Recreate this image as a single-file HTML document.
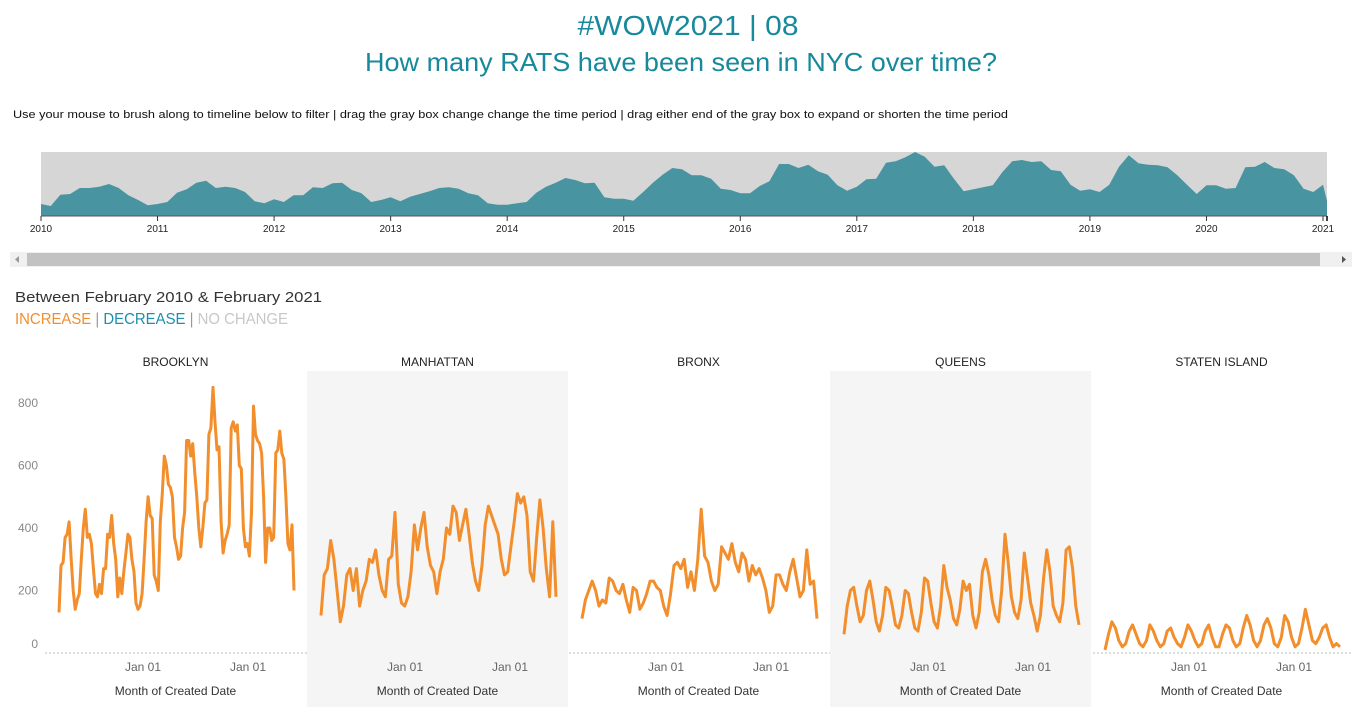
<!DOCTYPE html>
<html><head><meta charset="utf-8"><style>
body{margin:0;background:#fff;font-family:"Liberation Sans",sans-serif}
svg{display:block}
</style></head><body>
<svg id="chart" width="1370" height="723" xmlns="http://www.w3.org/2000/svg">
<text x="688" y="35" text-anchor="middle" font-size="28" fill="#17899b" textLength="221" lengthAdjust="spacingAndGlyphs">#WOW2021 | 08</text>
<text x="681" y="71" text-anchor="middle" font-size="26" fill="#17899b" textLength="632" lengthAdjust="spacingAndGlyphs">How many RATS have been seen in NYC over time?</text>
<text x="13" y="118" font-size="11" fill="#111" textLength="995" lengthAdjust="spacingAndGlyphs">Use your mouse to brush along to timeline below to filter | drag the gray box change change the time period | drag either end of the gray box to expand or shorten the time period</text>
<rect x="41" y="152" width="1286" height="64" fill="#d6d6d6"/>
<g id="timeline"></g>
<rect x="10" y="252" width="1342" height="15" fill="#f0f0f0"/>
<rect x="27" y="253" width="1293" height="13" fill="#c2c2c2"/>
<path d="M19 256 L15 259.5 L19 263Z" fill="#999"/>
<path d="M1342 256 L1346 259.5 L1342 263Z" fill="#555"/>
<text x="15" y="302" font-size="15" fill="#333" textLength="307" lengthAdjust="spacingAndGlyphs">Between February 2010 &amp; February 2021</text>
<text x="15" y="324" font-size="16" textLength="273" lengthAdjust="spacingAndGlyphs"><tspan fill="#f28e2b">INCREASE</tspan><tspan fill="#999"> | </tspan><tspan fill="#1b8fb0">DECREASE</tspan><tspan fill="#999"> | </tspan><tspan fill="#c8c8c8">NO CHANGE</tspan></text>
<g id="panels"></g>
</svg>
<script>
const NS="http://www.w3.org/2000/svg";
const timelineValues=[36,30,64,66,84,84,88,96,84,62,48,32, 36,42,70,80,100,106,84,88,84,72,44,38, 50,42,62,62,86,84,98,100,78,68,42,48, 56,44,58,66,74,84,86,82,68,62,38,34, 34,38,42,70,88,100,114,108,98,100,56,52, 52,46,72,100,124,144,140,122,122,112,82,78, 68,68,90,104,156,156,144,154,134,124,92,76, 88,110,112,160,164,176,192,178,148,152,112,74, 80,86,92,132,164,168,162,164,138,134,94,76, 80,72,94,148,182,158,154,152,146,122,94,66, 92,92,82,84,146,148,162,144,140,122,82,72, 94,46];
const yearLabels=["2010","2011","2012","2013","2014","2015","2016","2017","2018","2019","2020","2021"];
const boroughs=["BROOKLYN","MANHATTAN","BRONX","QUEENS","STATEN ISLAND"];
const brooklyn=[130,280,290,370,380,420,300,200,140,170,190,300,400,460,370,380,350,270,190,180,220,190,270,270,380,370,440,350,300,180,240,190,260,320,380,370,300,260,160,140,150,190,300,420,500,440,430,250,230,200,420,510,630,600,540,530,500,370,340,300,310,400,450,680,680,630,670,580,500,400,340,400,480,490,700,720,850,740,650,660,420,320,360,380,410,720,740,710,730,600,590,400,340,350,310,450,790,700,680,670,640,500,290,400,400,360,370,640,650,710,640,620,500,350,330,410,200];
const manhattan=[120,250,270,360,300,200,100,150,250,270,200,270,150,200,230,300,290,330,250,200,180,300,310,450,220,160,150,180,260,410,330,400,450,340,280,260,190,260,300,400,380,470,450,360,410,460,380,290,230,200,280,410,470,440,410,380,300,250,260,340,420,510,480,500,440,260,230,370,490,400,270,180,420,180];
const bronx=[110,170,200,230,200,150,170,160,240,230,200,190,220,170,130,210,200,140,160,190,230,230,210,200,150,120,190,280,290,270,300,210,260,200,300,460,310,290,230,200,220,340,320,300,350,290,260,320,300,230,280,250,270,240,200,130,150,250,250,220,200,260,300,240,180,200,330,220,230,110];
const queens=[60,150,200,210,150,100,120,200,230,170,100,70,120,210,200,150,90,80,120,200,190,130,80,70,130,240,230,160,100,80,150,280,210,170,110,90,140,230,200,220,120,80,130,260,300,250,170,120,100,200,380,290,180,130,110,170,320,240,160,120,70,120,240,330,260,150,120,100,160,330,340,270,150,90];
const staten=[10,60,100,80,40,20,30,70,90,60,30,20,40,90,70,40,20,30,70,80,50,30,20,50,90,70,40,20,30,70,90,50,20,20,60,90,80,40,20,30,80,120,90,40,20,40,90,110,80,30,20,50,120,100,50,20,30,80,140,90,40,30,50,80,90,50,20,30,20];
const series=[brooklyn,manhattan,bronx,queens,staten];
const yTicks=[0,200,400,600,800];
const xTickLabels=["Jan 01","Jan 01"];

function mk(tag,attrs,parent,text){const e=document.createElementNS(NS,tag);for(const k in attrs)e.setAttribute(k,attrs[k]);if(text!==undefined)e.textContent=text;parent.appendChild(e);return e;}

const tl=document.getElementById('timeline');
const tx=i=>41+i*(1282/132);
const tMax=192;
const ty=v=>216-v/tMax*64;
let d="M"+tx(0)+" 216";
timelineValues.forEach((v,i)=>{d+=" L"+Math.min(tx(i),1327).toFixed(1)+" "+ty(v).toFixed(1);});
d+=" L1327 216Z";
const area=mk('path',{d:d,fill:'#4894a1'},tl);


mk('line',{x1:41,x2:1327,y1:216,y2:216,stroke:'#555','stroke-width':1},tl);
yearLabels.forEach((y,k)=>{
  const x=tx(k*12);
  mk('line',{x1:x,x2:x,y1:216,y2:221,stroke:'#333'},tl);
  const t=mk('text',{x:x,y:232,'text-anchor':'middle','font-size':10,fill:'#222'},tl,y);
  
  
});
mk('line',{x1:1327,x2:1327,y1:216,y2:221,stroke:'#000','stroke-width':1.5},tl);

const pg=document.getElementById('panels');
const panelX=[45,307,568,830,1091];
const pw=261;
const yv=v=>653-v*0.3125;
mk('line',{x1:45,x2:1352,y1:653,y2:653,stroke:'#bbb','stroke-dasharray':'2,2'},pg);
yTicks.forEach(v=>{
  const t=mk('text',{x:38,y:Math.min(yv(v)+4,648),'text-anchor':'end','font-size':12,fill:'#888'},pg,String(v));
  
  
});
boroughs.forEach((b,i)=>{
  const px=panelX[i];
  const g=mk('g',{},pg);
  
  
  if(i%2==1) mk('rect',{x:px,y:371,width:pw,height:336,fill:'#f5f5f5'},g);
  const h=mk('text',{x:px+pw/2,y:366,'text-anchor':'middle','font-size':12,fill:'#222'},g,b);
  
  
  xTickLabels.forEach((l,k)=>{
    const t=mk('text',{x:px+98+k*105,y:671,'text-anchor':'middle','font-size':12,fill:'#666'},g,l);
    
    
  });
  const at=mk('text',{x:px+pw/2,y:695,'text-anchor':'middle','font-size':12,fill:'#333'},g,'Month of Created Date');
  
  
  const vals=series[i];
  const x0=px+14,x1=px+249;
  const xs=j=>x0+j*(x1-x0)/(vals.length-1);
  const pts=vals.map((v,j)=>xs(j).toFixed(1)+","+yv(v).toFixed(1)).join(" ");
  const pl=mk('polyline',{points:pts,fill:'none',stroke:'#f28e2b','stroke-width':3,'stroke-linejoin':'round'},g);
  
  
});
</script>
</body></html>
